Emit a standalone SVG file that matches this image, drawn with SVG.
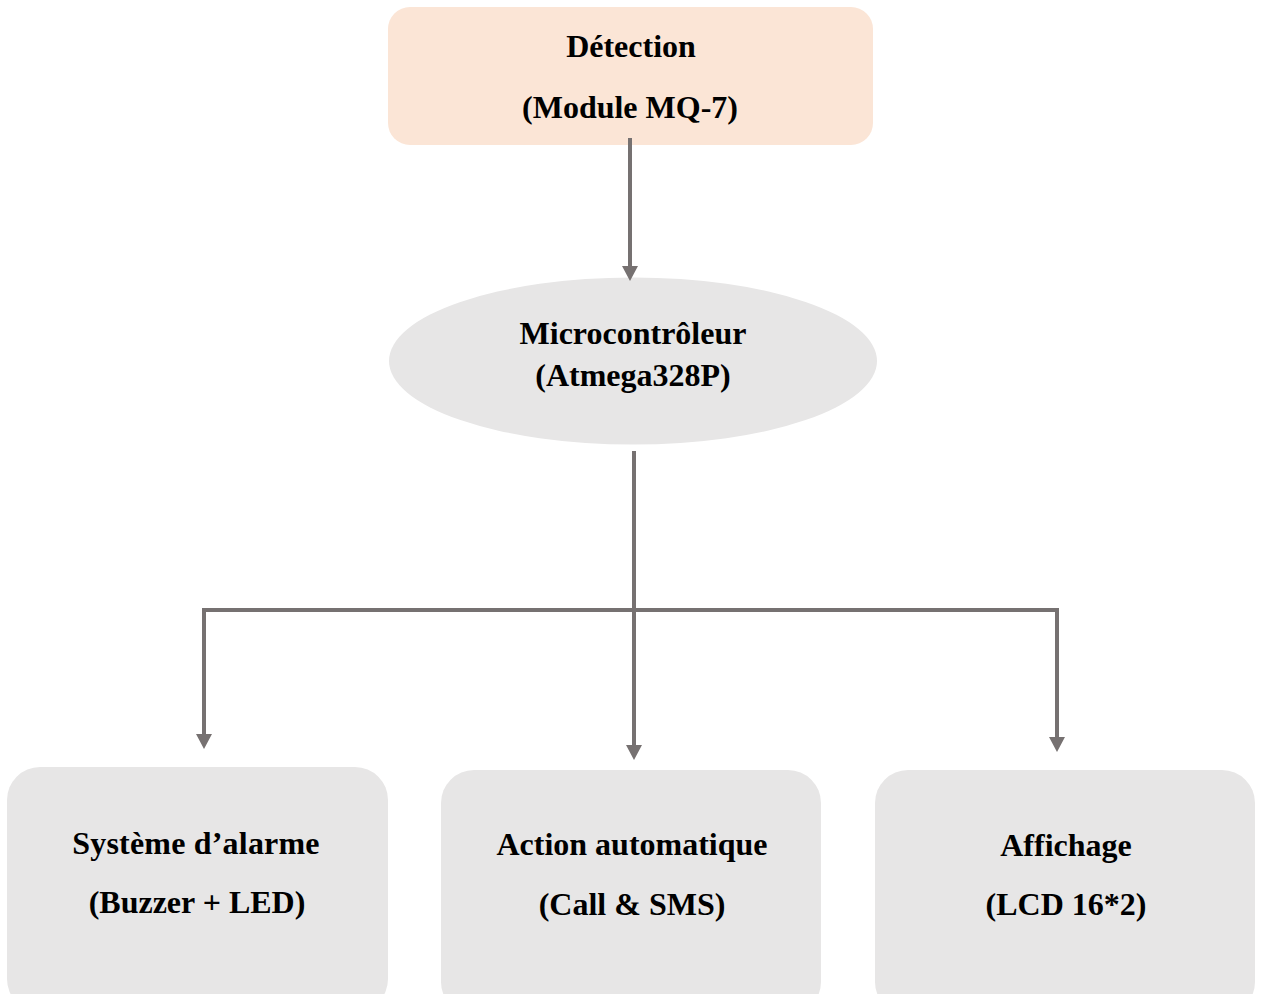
<svg xmlns="http://www.w3.org/2000/svg" width="1262" height="994" viewBox="0 0 1262 994">
  <style>
    .lbl { font-family: "Liberation Serif", "Times New Roman", serif; font-weight: bold; font-size: 32px; fill: #000; text-anchor: middle; }
    .gray { fill: #E7E6E6; }
    .conn { stroke: #767171; stroke-width: 4; fill: none; }
  </style>
  <defs>
    <marker id="arr" viewBox="0 0 15 16" markerWidth="15" markerHeight="16" refX="1" refY="8" orient="auto" markerUnits="userSpaceOnUse">
      <path d="M0,0 L15,8 L0,16 Z" fill="#767171"/>
    </marker>
  </defs>
  <rect width="1262" height="994" fill="#ffffff"/>

  <g id="node-detection">
    <rect x="388" y="7" width="485" height="138" rx="22" ry="22" fill="#FBE5D6"/>
    <text class="lbl" x="631" y="57">Détection</text>
    <text class="lbl" x="630" y="118">(Module MQ-7)</text>
  </g>

  <g id="node-micro">
    <ellipse class="gray" cx="633" cy="361" rx="244" ry="83.5"/>
    <text class="lbl" x="633" y="344">Microcontrôleur</text>
    <text class="lbl" x="633" y="386">(Atmega328P)</text>
  </g>

  <g id="node-alarme">
    <rect class="gray" x="7" y="767" width="381" height="245" rx="33" ry="33"/>
    <text class="lbl" x="196" y="854" letter-spacing="0.2">Système d’alarme</text>
    <text class="lbl" x="197" y="913">(Buzzer + LED)</text>
  </g>

  <g id="node-action">
    <rect class="gray" x="441" y="770" width="380" height="245" rx="33" ry="33"/>
    <text class="lbl" x="632" y="855">Action automatique</text>
    <text class="lbl" x="632" y="915">(Call &amp; SMS)</text>
  </g>

  <g id="node-affichage">
    <rect class="gray" x="875" y="770" width="380" height="245" rx="33" ry="33"/>
    <text class="lbl" x="1066" y="856">Affichage</text>
    <text class="lbl" x="1066" y="915">(LCD 16*2)</text>
  </g>

  <g id="connectors">
    <line class="conn" x1="630" y1="138" x2="630" y2="267" marker-end="url(#arr)"/>
    <line class="conn" x1="634" y1="451" x2="634" y2="746" marker-end="url(#arr)"/>
    <polyline class="conn" points="1057,610 204,610"/>
    <line class="conn" x1="204" y1="608" x2="204" y2="735" marker-end="url(#arr)"/>
    <line class="conn" x1="1057" y1="608" x2="1057" y2="738" marker-end="url(#arr)"/>
  </g>
</svg>
